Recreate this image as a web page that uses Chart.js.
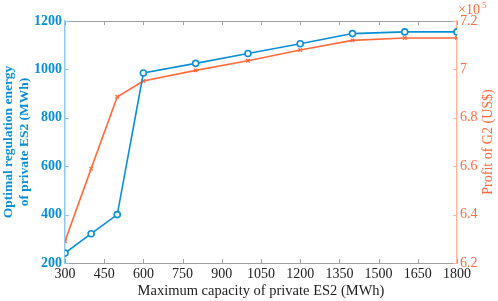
<!DOCTYPE html>
<html>
<head>
<meta charset="utf-8">
<script src="https://cdn.jsdelivr.net/npm/chart.js@4/dist/chart.umd.min.js"></script>
<style>
  html, body { margin: 0; padding: 0; background: #fff; }
  #wrap { width: 498px; height: 301px; }
</style>
</head>
<body>
<div id="wrap"><canvas id="chart"></canvas></div>
<script>
// data
const capacity = [300, 400, 500, 600, 800, 1000, 1200, 1400, 1600, 1800];
const regulationEnergy = [241, 321, 400, 985, 1025, 1066, 1106, 1148, 1155, 1155];
const profitG2 = [6.29, 6.59, 6.887, 6.952, 6.996, 7.036, 7.08, 7.12, 7.13, 7.13]; // x10^5 US$

const xTicks = [300, 450, 600, 750, 900, 1050, 1200, 1350, 1500, 1650, 1800];
const leftTicks = [200, 400, 600, 800, 1000, 1200];
const rightTicks = [6.2, 6.4, 6.6, 6.8, 7, 7.2];

const blue = "#0b8fd4";
const orange = "#ff6b3d";
const serif = "'Liberation Serif', 'Times New Roman', serif";

// inner tick marks, top frame line, right title and the x10^5 label
const framePlugin = {
  id: "frame",
  afterDraw(chart) {
    const ctx = chart.ctx;
    const a = chart.chartArea;
    const x = chart.scales.x;
    const yl = chart.scales.y;
    const yr = chart.scales.y1;
    ctx.save();
    ctx.lineWidth = 1;
    ctx.strokeStyle = "#a0a0a0";
    ctx.beginPath();
    ctx.moveTo(a.left, a.top + 0.5);
    ctx.lineTo(a.right, a.top + 0.5);
    ctx.stroke();
    ctx.beginPath();
    xTicks.forEach((v) => {
      const px = Math.round(x.getPixelForValue(v)) + 0.5;
      ctx.moveTo(px, a.bottom);
      ctx.lineTo(px, a.bottom - 4);
      ctx.moveTo(px, a.top);
      ctx.lineTo(px, a.top + 4);
    });
    ctx.stroke();
    ctx.strokeStyle = "#8ccbed";
    ctx.beginPath();
    leftTicks.forEach((v) => {
      const py = Math.round(yl.getPixelForValue(v)) + 0.5;
      ctx.moveTo(a.left, py);
      ctx.lineTo(a.left + 4, py);
    });
    ctx.stroke();
    ctx.strokeStyle = "#ffb59c";
    ctx.beginPath();
    rightTicks.forEach((v) => {
      const py = Math.round(yr.getPixelForValue(v)) + 0.5;
      ctx.moveTo(a.right, py);
      ctx.lineTo(a.right - 4, py);
    });
    ctx.stroke();

    ctx.fillStyle = orange;
    ctx.textAlign = "left";
    ctx.textBaseline = "alphabetic";
    ctx.font = "14px " + serif;
    ctx.fillText("\u00d710", a.right + 1, a.top - 7);
    ctx.font = "9px " + serif;
    ctx.fillText("5", a.right + 25, a.top - 13);

    // right axis title, reading bottom to top
    ctx.translate(a.right + 31, (a.top + a.bottom) / 2);
    ctx.rotate(-Math.PI / 2);
    ctx.textAlign = "center";
    ctx.textBaseline = "middle";
    ctx.font = "14px " + serif;
    ctx.fillText("Profit of G2 (US$)", 0, 0);
    ctx.restore();
  },
};

const ctx = document.getElementById("chart");
new Chart(ctx, {
  type: "line",
  data: {
    datasets: [
      {
        label: "Optimal regulation energy",
        data: capacity.map((c, i) => ({ x: c, y: regulationEnergy[i] })),
        borderColor: blue,
        backgroundColor: "transparent",
        borderWidth: 1.6,
        pointStyle: "circle",
        pointRadius: 3,
        pointBorderWidth: 1.6,
        pointBorderColor: blue,
        pointBackgroundColor: "#fff",
        yAxisID: "y",
      },
      {
        label: "Profit of G2",
        data: capacity.map((c, i) => ({ x: c, y: profitG2[i] })),
        borderColor: orange,
        backgroundColor: "transparent",
        borderWidth: 1.6,
        pointStyle: "crossRot",
        pointRadius: 2.5,
        pointBorderWidth: 1.3,
        pointBorderColor: orange,
        yAxisID: "y1",
      },
    ],
  },
  options: {
    responsive: true,
    maintainAspectRatio: false,
    animation: false,
    layout: { padding: { top: 21, right: 0, left: 0, bottom: 0 } },
    plugins: {
      legend: { display: false },
      tooltip: { enabled: false },
    },
    scales: {
      x: {
        type: "linear",
        min: 300,
        max: 1800,
        afterBuildTicks: (s) => { s.ticks = xTicks.map((v) => ({ value: v })); },
        afterFit: (s) => { s.height = 38; },
        grid: { display: false, drawTicks: false },
        border: { display: true, color: "#a0a0a0", width: 1 },
        ticks: { color: "#222", font: { family: serif, size: 14 }, padding: 3, maxRotation: 0, callback: (v) => String(v) },
        title: {
          display: true,
          text: "Maximum capacity of private ES2 (MWh)",
          color: "#222",
          font: { family: serif, size: 14.5 },
          padding: { top: 0, bottom: 1 },
        },
      },
      y: {
        position: "left",
        min: 200,
        max: 1200,
        afterBuildTicks: (s) => { s.ticks = leftTicks.map((v) => ({ value: v })); },
        afterFit: (s) => { s.width = 65; },
        grid: { display: false, drawTicks: false },
        border: { display: true, color: "#8ccbed", width: 1.5 },
        ticks: { color: blue, font: { family: serif, size: 14, weight: "bold" }, padding: 3, callback: (v) => String(v) },
        title: {
          display: true,
          text: ["Optimal regulation energy", "of private ES2 (MWh)"],
          color: blue,
          font: { family: serif, size: 13.5, weight: "bold", lineHeight: 1.15 },
          padding: { top: 1, bottom: 0 },
        },
      },
      y1: {
        position: "right",
        min: 6.2,
        max: 7.2,
        afterBuildTicks: (s) => { s.ticks = rightTicks.map((v) => ({ value: v })); },
        afterFit: (s) => { s.width = 41; },
        grid: { display: false, drawTicks: false },
        border: { display: true, color: "#ffb59c", width: 1.5 },
        ticks: { color: orange, font: { family: serif, size: 14 }, padding: 3, callback: (v) => String(v) },
      },
    },
  },
  plugins: [framePlugin],
});
</script>
</body>
</html>
